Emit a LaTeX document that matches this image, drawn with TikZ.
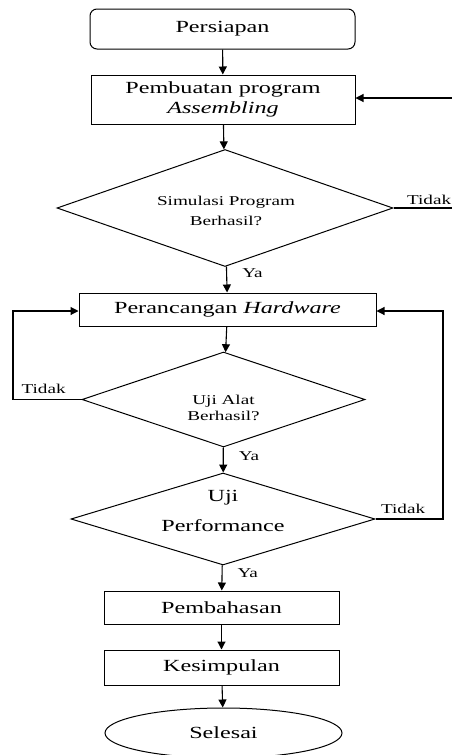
\documentclass[tikz,border=0pt]{standalone}
\usepackage{fontspec}
\setmainfont[FakeStretch=1.42]{Liberation Serif}
\usetikzlibrary{positioning,arrows.meta,shapes}

\begin{document}
\begin{tikzpicture}[
    x = 1pt, y = -1pt,
    > = {Triangle[length=8pt,width=8pt]},
    line width = 1.1pt,
    every node/.style={font=\fontsize{17}{20}\selectfont},
    process/.style={rectangle, draw, line width=1pt, inner sep=0pt, align=center},
    startstop/.style={rectangle, rounded corners=7pt, draw, line width=1pt, inner sep=0pt},
    decision/.style={diamond, draw, line width=1pt, inner sep=0pt},
    endstate/.style={ellipse, draw, line width=1pt, inner sep=0pt},
    small/.style={font=\fontsize{13.5}{16}\selectfont, inner sep=1pt},
    answer/.style={font=\fontsize{13.5}{16}\selectfont, inner sep=1pt}
]
    \useasboundingbox (0,0) rectangle (451,755);

    % main column
    \node[startstop, minimum width=265pt, minimum height=40pt] (prep) at (222.5,29) {Persiapan};
    \node[process, minimum width=264pt, minimum height=49pt] (prog) at (223,99.5)
        {Pembuatan program\\[0pt]\textit{Assembling}};
    \node[decision, minimum width=336pt, minimum height=117pt] (sim) at (225,208) {};
    \node[small, align=center] (simtext) at (226,211) {Simulasi Program\\[4pt]Berhasil?};
    \node[process, minimum width=297pt, minimum height=33pt] (hw) at (227.5,309.5)
        {Perancangan \textit{Hardware}};
    \node[decision, minimum width=283pt, minimum height=95pt] (alat) at (223.5,399.5) {};
    \node[small, align=center] (alattext) at (223.5,408) {Uji Alat\\Berhasil?};
    \node[decision, minimum width=304pt, minimum height=92pt] (perf) at (223,519) {};
    \node[align=center] (perftext) at (223,511) {Uji\\[10pt]Performance};
    \node[process, minimum width=235pt, minimum height=33pt] (bahas) at (221.5,607.5) {Pembahasan};
    \node[process, minimum width=235pt, minimum height=35pt] (simpul) at (221.5,667.5) {Kesimpulan};
    \node[endstate, minimum width=237pt, minimum height=50pt] (end) at (223.5,733) {Selesai};

    % turning points of the loops
    \coordinate (simR) at (453,208);
    \coordinate (progR) at (453,98);
    \coordinate (alatL) at (13,399.5);
    \coordinate (hwL) at (13,311);
    \coordinate (perfR) at (443,519);
    \coordinate (hwR) at (443,311);

    \draw[->] (prep) -- (prog);
    \draw[->] (prog) -- (sim);
    \draw[->] (sim) -- node[answer, anchor=west, xshift=14pt, yshift=6pt] (ya1) {Ya} (hw);
    \draw[->] (hw) -- (alat);
    \draw[->] (alat) -- node[answer, anchor=west, xshift=14pt, yshift=4pt] (ya2) {Ya} (perf);
    \draw[->] (perf) -- node[answer, anchor=west, xshift=14pt, yshift=5pt] (ya3) {Ya} (bahas);
    \draw[->] (bahas) -- (simpul);
    \draw[->] (simpul) -- (end);

    \draw[->] (sim.east) -- (simR) |- (prog.east |- progR);
    \draw[->] (alat.west) -- (alatL) |- (hw.west |- hwL);
    \draw[->] (perf.east) -- (perfR) |- (hw.east |- hwR);

    \node[answer, anchor=south west] (no1) at ([xshift=12pt,yshift=2pt]sim.east) {Tidak};
    \node[answer, anchor=south west] (no2) at (20,395) {Tidak};
    \node[answer, anchor=south west] (no3) at ([xshift=4pt,yshift=4pt]perf.east) {Tidak};
\end{tikzpicture}
\end{document}
